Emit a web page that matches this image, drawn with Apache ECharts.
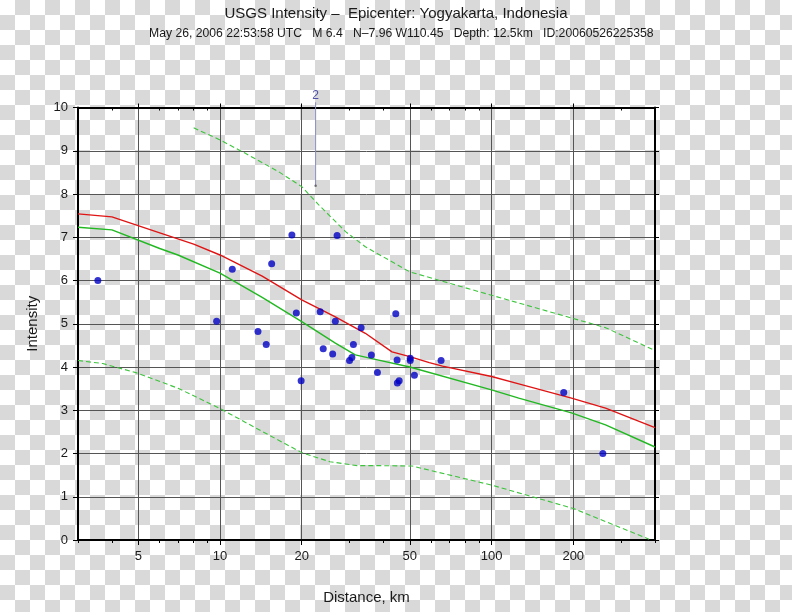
<!DOCTYPE html>
<html><head><meta charset="utf-8">
<script src="https://cdn.jsdelivr.net/npm/echarts@6/dist/echarts.min.js"></script>
<style>
html,body{margin:0;padding:0;}
#c{width:792px;height:612px;background-color:#fff;background-image:conic-gradient(#d9d9d9 25%, #fff 0 50%, #d9d9d9 0 75%, #fff 0);background-size:30px 30px;}
</style></head><body><div id="c"></div>
<script>
const titleText = 'USGS Intensity \u2013  Epicenter: Yogyakarta, Indonesia';
const subtitleText = 'May 26, 2006 22:53:58 UTC   M 6.4   N\u20137.96 W110.45   Depth: 12.5km   ID:20060526225358';
const xAxisName = 'Distance, km';
const yAxisName = 'Intensity';
const xMinKm = 3, xMaxKm = 400;
const xTickValues = [5, 10, 20, 50, 100, 200];
const xMinorTickValues = [3, 4, 6, 7, 8, 9, 30, 40, 60, 70, 80, 90, 300, 400];
const yTickValues = [0, 1, 2, 3, 4, 5, 6, 7, 8, 9, 10];

// red prediction curve
const redDist = [3, 4, 6, 8, 10, 14.3, 20, 26.6, 34.3, 43, 50, 59, 66, 100, 126, 197, 263, 400];
const redInt  = [7.54, 7.47, 7.10, 6.84, 6.59, 6.10, 5.55, 5.16, 4.78, 4.35, 4.24, 4.10, 4.02, 3.78, 3.61, 3.28, 3.05, 2.60];
// green solid curve
const greenDist = [3, 4, 6, 7, 10, 14.3, 20, 26.6, 31.5, 38.4, 50, 100, 126, 197, 263, 400];
const greenInt  = [7.23, 7.17, 6.74, 6.59, 6.17, 5.61, 5.05, 4.55, 4.28, 4.16, 4.00, 3.47, 3.28, 2.94, 2.66, 2.15];
// dashed upper bound
const upperDist = [8, 10, 12.4, 16.4, 20, 23.1, 29, 34.3, 50, 90, 263, 400];
const upperInt  = [9.53, 9.25, 8.94, 8.52, 8.17, 7.75, 7.13, 6.78, 6.20, 5.74, 4.91, 4.38];
// dashed lower bound
const lowerDist = [3, 3.7, 4.9, 7, 10, 14.4, 20, 25.4, 32, 38, 51, 100, 200, 380];
const lowerInt  = [4.15, 4.08, 3.87, 3.51, 3.04, 2.50, 2.02, 1.81, 1.72, 1.72, 1.71, 1.27, 0.73, 0.02];
// observed stations
const obsDist = [3.55, 9.72, 11.1, 18.4, 27.0, 15.5, 19.1, 23.4, 26.6, 33.1, 44.4, 13.8, 14.8, 31.0, 24.0, 26.0, 36.1, 30.6, 30.0, 44.9, 50.2, 50.2, 38.0, 52.0, 19.9, 45.0, 45.7, 65.2, 184.5, 257];
const obsInt  = [6.00, 5.06, 6.26, 7.05, 7.04, 6.39, 5.25, 5.28, 5.06, 4.91, 5.23, 4.82, 4.52, 4.52, 4.42, 4.30, 4.28, 4.22, 4.15, 4.16, 4.20, 4.15, 3.87, 3.81, 3.68, 3.63, 3.68, 4.15, 3.41, 2.00];
// marker "2"
const markDist = 22.5, markInt = 8.19, markTop = 10.12, markLabelInt = 10.27, markLabel = '2';

const zip = (a, b) => a.map((v, i) => [v, b[i]]);
const L = v => Math.log10(v);
const font = 'Liberation Sans, Arial, Helvetica, sans-serif';

const frameLine = {show: true, lineStyle: {color: '#000', width: 2}};
function logValueAxis(extra) {
  return Object.assign({type: 'value', min: L(xMinKm), max: L(xMaxKm), scale: true}, extra);
}

const chart = echarts.init(document.getElementById('c'), null, {renderer: 'canvas'});
chart.setOption({
  animation: false,
  backgroundColor: 'transparent',
  textStyle: {fontFamily: font},
  title: [
    {text: titleText, left: 'center', top: 1, textStyle: {fontSize: 15, fontWeight: 'normal', color: '#1a1a1a', fontFamily: font}},
    {text: subtitleText, left: 144, top: 23, textStyle: {fontSize: 12.2, fontWeight: 'normal', color: '#1a1a1a', fontFamily: font}}
  ],
  grid: {left: 78, right: 137, top: 107.5, bottom: 72, containLabel: false, outerBoundsMode: 'none'},
  xAxis: [
    {type: 'log', logBase: 10, min: xMinKm, max: xMaxKm, show: false},
    logValueAxis({
      position: 'bottom', name: xAxisName, nameLocation: 'middle', nameGap: 50,
      nameTextStyle: {fontSize: 15, color: '#1a1a1a', fontFamily: font},
      axisLine: frameLine,
      axisTick: {show: true, inside: false, length: 5, lineStyle: {color: '#000', width: 1}, customValues: xTickValues.map(L)},
      axisLabel: {show: true, margin: 10, fontSize: 13, color: '#1a1a1a', fontFamily: font,
        customValues: xTickValues.map(L), formatter: v => String(Math.round(Math.pow(10, v)))},
      splitLine: {show: true, lineStyle: {color: '#555', width: 1}}
    }),
    logValueAxis({
      position: 'bottom', axisLine: {show: false},
      axisTick: {show: true, inside: false, length: 3, lineStyle: {color: '#000', width: 1}, customValues: xMinorTickValues.map(L)},
      axisLabel: {show: false}, splitLine: {show: false}
    }),
    logValueAxis({
      position: 'top', axisLine: frameLine,
      axisTick: {show: true, inside: false, length: 4, lineStyle: {color: '#000', width: 1}, customValues: xTickValues.map(L)},
      axisLabel: {show: false}, splitLine: {show: false}
    }),
    logValueAxis({
      position: 'top', axisLine: {show: false},
      axisTick: {show: true, inside: true, length: 3, lineStyle: {color: '#000', width: 1}, customValues: xMinorTickValues.map(L)},
      axisLabel: {show: false}, splitLine: {show: false}
    })
  ],
  yAxis: [
    {type: 'value', min: 0, max: 10, interval: 1, position: 'left',
      name: yAxisName, nameLocation: 'middle', nameGap: 38,
      nameTextStyle: {fontSize: 15, color: '#1a1a1a', fontFamily: font},
      axisLine: frameLine,
      axisTick: {show: true, inside: false, length: 5, lineStyle: {color: '#000', width: 1}, customValues: yTickValues},
      axisLabel: {show: true, margin: 10, fontSize: 13, color: '#1a1a1a', fontFamily: font, customValues: yTickValues},
      splitLine: {show: true, lineStyle: {color: '#555', width: 1}}
    },
    {type: 'value', min: 0, max: 10, interval: 1, position: 'right',
      axisLine: frameLine,
      axisTick: {show: true, inside: false, length: 4, lineStyle: {color: '#000', width: 1}},
      axisLabel: {show: false}, splitLine: {show: false}
    }
  ],
  series: [
    {type: 'line', data: zip(upperDist, upperInt), xAxisIndex: 0, yAxisIndex: 0, symbol: 'none', silent: true,
      lineStyle: {color: '#3cc43c', width: 1.1, type: [5, 3]}, z: 3},
    {type: 'line', data: zip(lowerDist, lowerInt), xAxisIndex: 0, yAxisIndex: 0, symbol: 'none', silent: true,
      lineStyle: {color: '#3cc43c', width: 1.1, type: [5, 3]}, z: 3},
    {type: 'line', data: zip(greenDist, greenInt), xAxisIndex: 0, yAxisIndex: 0, symbol: 'none', silent: true,
      lineStyle: {color: '#22b822', width: 1.4}, z: 4},
    {type: 'line', data: zip(redDist, redInt), xAxisIndex: 0, yAxisIndex: 0, symbol: 'none', silent: true,
      lineStyle: {color: '#e01414', width: 1.4}, z: 4},
    {type: 'scatter', data: zip(obsDist, obsInt), xAxisIndex: 0, yAxisIndex: 0, symbol: 'circle', symbolSize: 7,
      itemStyle: {color: '#0000c4'}, z: 5},
    {type: 'line', data: [[markDist, markInt], [markDist, markTop]], xAxisIndex: 0, yAxisIndex: 0, symbol: 'none', clip: false,
      lineStyle: {color: '#8c8cc0', width: 1}, z: 5},
    {type: 'scatter', data: [[markDist, markInt]], xAxisIndex: 0, yAxisIndex: 0, symbol: 'circle', symbolSize: 2.5,
      itemStyle: {color: '#555'}, z: 6},
    {type: 'scatter', data: [[markDist, markLabelInt]], xAxisIndex: 0, yAxisIndex: 0, symbolSize: 0, clip: false,
      label: {show: true, position: 'inside', formatter: markLabel, fontSize: 12, color: '#2a2a9a', fontFamily: font}, z: 6}
  ]
});
</script></body></html>
